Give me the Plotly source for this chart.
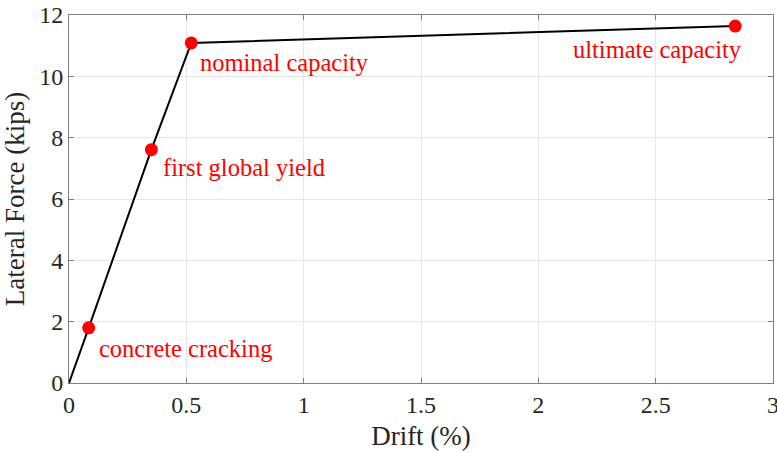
import plotly.graph_objects as go

# Pushover curve: drift (%) vs lateral force (kips)
drift = [0.0, 0.084, 0.351, 0.521, 2.839]
force = [0.0, 1.80, 7.61, 11.09, 11.64]

# Marked limit states
state_labels = ["concrete cracking", "first global yield", "nominal capacity", "ultimate capacity"]
state_drift = drift[1:]
state_force = force[1:]

x_ticks = [0, 0.5, 1, 1.5, 2, 2.5, 3]
x_tick_text = ["0", "0.5", "1", "1.5", "2", "2.5", "3"]
y_ticks = [0, 2, 4, 6, 8, 10, 12]

serif = "Times New Roman"
ink = "#262626"

fig = go.Figure()
fig.add_trace(go.Scatter(
    x=drift, y=force, mode="lines",
    line=dict(color="black", width=2), showlegend=False, hoverinfo="skip",
))
fig.add_trace(go.Scatter(
    x=state_drift, y=state_force, mode="markers",
    marker=dict(color="#ff0000", size=13), showlegend=False,
))

# Label offsets (in data units) relative to each marker
offsets = [(0.034, -0.68, "left"), (0.039, -0.57, "left"), (0.029, -0.63, "left"), (0.039, -0.77, "right")]
for lab, xv, yv, (dx, dy, anc) in zip(state_labels, state_drift, state_force, offsets):
    fig.add_annotation(
        x=xv + dx, y=yv + dy, text=lab, showarrow=False,
        xanchor=anc, yanchor="middle",
        font=dict(family=serif, size=24.5, color="#ff0000"),
    )

axis_common = dict(
    showgrid=True, gridcolor="#e6e6e6", gridwidth=1,
    showline=True, linecolor="#808080", linewidth=1, mirror="ticks",
    ticks="inside", ticklen=5, tickcolor="#808080",
    tickfont=dict(family=serif, size=24, color=ink),
    ticklabeloverflow="allow",
    automargin=False,
    zeroline=False,
)

fig.update_xaxes(
    range=[0, 3], tickvals=x_ticks, ticktext=x_tick_text,
    title=dict(text="Drift (%)", font=dict(family=serif, size=27, color=ink), standoff=9),
    **axis_common,
)
fig.update_yaxes(
    range=[0, 12], tickvals=y_ticks,
    title=dict(text="Lateral Force (kips)", font=dict(family=serif, size=27, color=ink), standoff=6),
    **axis_common,
)

fig.update_layout(
    width=777, height=453,
    margin=dict(l=69, r=4, t=15, b=70),
    plot_bgcolor="white", paper_bgcolor="white",
    font=dict(family=serif, color=ink),
)

fig.write_html("out.html")
